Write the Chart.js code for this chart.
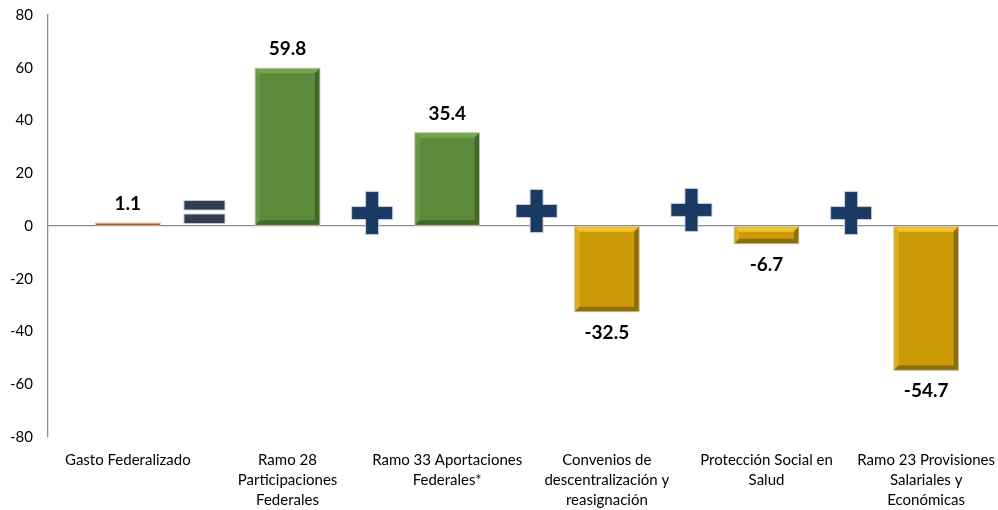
<!DOCTYPE html>
<html><head><meta charset="utf-8">
<script src="https://cdn.jsdelivr.net/npm/chart.js@4.4.1/dist/chart.umd.min.js"></script>
<style>
html,body{margin:0;padding:0;background:#fff;overflow:hidden;}
#wrap{width:1006px;height:510px;position:relative;}
</style></head>
<body>
<div id="wrap"><canvas id="c"></canvas></div>
<script>
const categories = [
  ["Gasto Federalizado"],
  ["Ramo 28", "Participaciones", "Federales"],
  ["Ramo 33 Aportaciones", "Federales*"],
  ["Convenios de", "descentralización y", "reasignación"],
  ["Protección Social en", "Salud"],
  ["Ramo 23 Provisiones", "Salariales y", "Económicas"]
];
const values = [1.1, 59.8, 35.4, -32.5, -6.7, -54.7];
const yTicks = [-80, -60, -40, -20, 0, 20, 40, 60, 80];
const operators = ["=", "+", "+", "+", "+"];

const barBase  = ["#C55A11", "#5B8A3A", "#5B8A3A", "#CC9A06", "#CC9A06", "#CC9A06"];
const barLight = ["#E07A35", "#76A452", "#76A452", "#F0C12A", "#F0C12A", "#F0C12A"];
const barDark  = ["#8E3E0A", "#3E6026", "#3E6026", "#86650A", "#86650A", "#86650A"];

const FONT = "Lato, 'Open Sans', sans-serif";

const bevelPlugin = {
  id: 'bevel',
  afterDatasetsDraw(chart) {
    const ctx = chart.ctx;
    const meta = chart.getDatasetMeta(0);
    meta.data.forEach((el, i) => {
      const p = el.getProps(['x','y','base','width'], true);
      const l = p.x - p.width/2, r = p.x + p.width/2;
      const t = Math.min(p.y, p.base), b = Math.max(p.y, p.base);
      const h = b - t;
      const s = Math.min(5, h/2);
      ctx.save();
      ctx.fillStyle = barLight[i];
      ctx.beginPath(); ctx.moveTo(l,t); ctx.lineTo(r,t); ctx.lineTo(r-s,t+s); ctx.lineTo(l+s,t+s); ctx.closePath(); ctx.fill();
      ctx.globalAlpha = 0.5;
      ctx.beginPath(); ctx.moveTo(l,t); ctx.lineTo(l+s,t+s); ctx.lineTo(l+s,b-s); ctx.lineTo(l,b); ctx.closePath(); ctx.fill();
      ctx.globalAlpha = 0.85;
      ctx.fillStyle = barDark[i];
      ctx.beginPath(); ctx.moveTo(r,t); ctx.lineTo(r,b); ctx.lineTo(r-s,b-s); ctx.lineTo(r-s,t+s); ctx.closePath(); ctx.fill();
      ctx.beginPath(); ctx.moveTo(l,b); ctx.lineTo(r,b); ctx.lineTo(r-s,b-s); ctx.lineTo(l+s,b-s); ctx.closePath(); ctx.fill();
      ctx.globalAlpha = 1;
      ctx.strokeStyle = "rgba(200,200,180,0.8)";
      ctx.lineWidth = 1;
      ctx.strokeRect(l, t, r - l, h);
      ctx.restore();
      ctx.save();
      ctx.font = "bold 19px " + FONT;
      ctx.fillStyle = "#000";
      ctx.textAlign = "center";
      ctx.textBaseline = "middle";
      const v = values[i];
      const ly = v >= 0 ? t - 19 : b + 21;
      ctx.fillText(v.toFixed(1), p.x, ly);
      ctx.restore();
    });
  }
};

const operatorPlugin = {
  id: 'operators',
  afterDatasetsDraw(chart, args, opts) {
    const ctx = chart.ctx;
    const xs = chart.scales.x, ys = chart.scales.y;
    operators.forEach((op, i) => {
      const pos = opts.at[i];
      const i0 = Math.floor(pos), f = pos - i0;
      const cx = xs.getPixelForValue(i0) * (1-f) + xs.getPixelForValue(i0+1) * f;
      const cy = ys.getPixelForValue(opts.level[i]);
      ctx.save();
      ctx.strokeStyle = "rgba(200,210,225,0.9)";
      ctx.lineWidth = 1;
      if (op === "+") {
        ctx.fillStyle = "#1B3A63";
        const w = 41, hgt = 43, a = 13;
        ctx.beginPath();
        ctx.moveTo(cx - a/2, cy - hgt/2);
        ctx.lineTo(cx + a/2, cy - hgt/2);
        ctx.lineTo(cx + a/2, cy - a/2);
        ctx.lineTo(cx + w/2, cy - a/2);
        ctx.lineTo(cx + w/2, cy + a/2);
        ctx.lineTo(cx + a/2, cy + a/2);
        ctx.lineTo(cx + a/2, cy + hgt/2);
        ctx.lineTo(cx - a/2, cy + hgt/2);
        ctx.lineTo(cx - a/2, cy + a/2);
        ctx.lineTo(cx - w/2, cy + a/2);
        ctx.lineTo(cx - w/2, cy - a/2);
        ctx.lineTo(cx - a/2, cy - a/2);
        ctx.closePath();
        ctx.fill(); ctx.stroke();
      } else {
        ctx.fillStyle = "#333F50";
        const w = 41, bh = 9.5, gap = 4;
        ctx.fillRect(cx - w/2, cy - gap/2 - bh, w, bh);
        ctx.strokeRect(cx - w/2, cy - gap/2 - bh, w, bh);
        ctx.fillRect(cx - w/2, cy + gap/2, w, bh);
        ctx.strokeRect(cx - w/2, cy + gap/2, w, bh);
      }
      ctx.restore();
    });
  }
};

new Chart(document.getElementById('c'), {
  type: 'bar',
  data: {
    labels: categories,
    datasets: [{
      data: values,
      backgroundColor: barBase,
      borderWidth: 0,
      barPercentage: 0.405,
      categoryPercentage: 1.0
    }]
  },
  options: {
    responsive: true,
    maintainAspectRatio: false,
    animation: false,
    layout: { padding: { top: 15, right: 0, left: 0, bottom: 0 } },
    plugins: {
      legend: { display: false },
      tooltip: { enabled: false },
      operators: {
        at: [0.48, 1.53, 2.56, 3.53, 4.53],
        level: [5.3, 4.9, 5.7, 6.1, 4.9]
      }
    },
    scales: {
      x: {
        grid: { display: false, drawTicks: false },
        border: { display: false },
        ticks: {
          color: "#000",
          font: { family: FONT, size: 15, lineHeight: '20px' },
          padding: 13,
          maxRotation: 0,
          autoSkip: false
        },
        afterFit(s) { s.height = 73; s.paddingLeft = 0; s.paddingRight = 0; }
      },
      y: {
        min: -80, max: 80,
        afterBuildTicks(s) { s.ticks = yTicks.map(v => ({ value: v })); },
        grid: {
          drawTicks: false,
          color: ctx => (ctx.tick && ctx.tick.value === 0) ? "#8C8C8C" : "rgba(0,0,0,0)",
          lineWidth: 1.3
        },
        border: { display: true, color: "#8C8C8C", width: 1.3 },
        ticks: {
          color: "#000",
          font: { family: FONT, size: 15 },
          padding: 15
        },
        afterFit(s) { s.width = 48; s.paddingTop = 0; s.paddingBottom = 0; }
      }
    }
  },
  plugins: [bevelPlugin, operatorPlugin]
});
</script>
</body></html>
